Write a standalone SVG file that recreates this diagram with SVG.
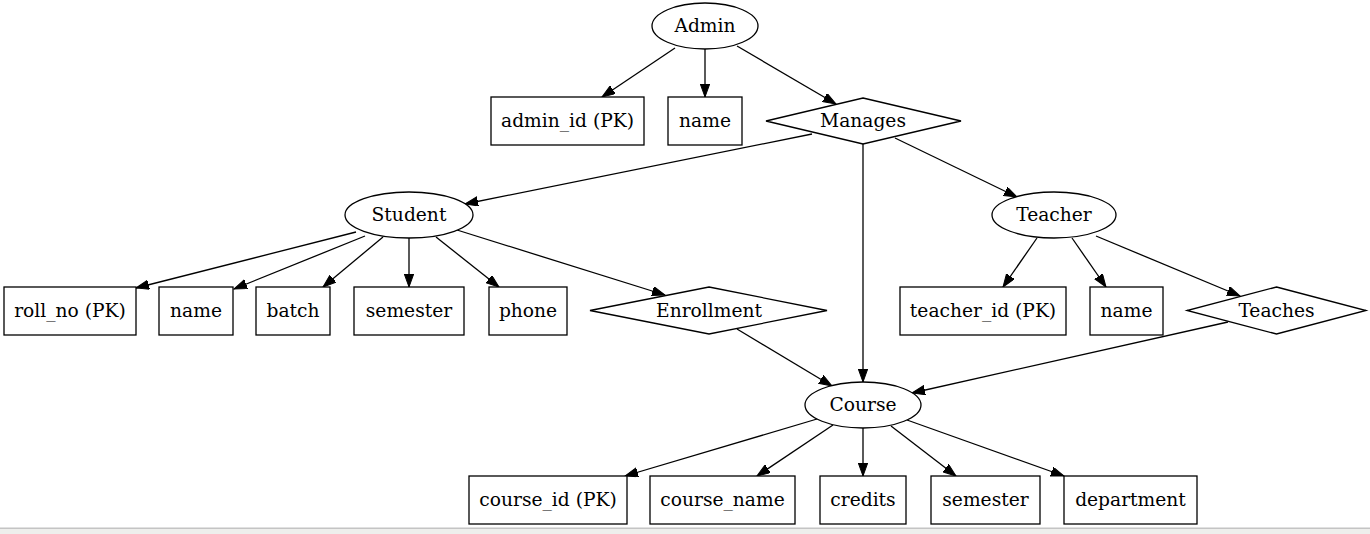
<svg xmlns="http://www.w3.org/2000/svg" width="1370" height="534" viewBox="0 0 1370 534">
<style>
.n{fill:#fff;stroke:#000;stroke-width:1.3}
.t{font-family:"DejaVu Serif","Liberation Serif",serif;font-size:18.67px;text-anchor:middle;fill:#000}
.e{fill:none;stroke:#000;stroke-width:1.3;marker-end:url(#ah)}
</style>
<defs>
<marker id="ah" markerUnits="userSpaceOnUse" markerWidth="14" markerHeight="10" refX="13" refY="4.7" orient="auto">
<path d="M0,0 L13,4.7 L0,9.4 z" fill="#000" stroke="#000" stroke-width="1"/>
</marker>
</defs>
<rect x="0" y="0" width="1370" height="534" fill="#fff"/>
<g id="connectors">
<line class="e" x1="675" y1="48" x2="602" y2="97"/>
<line class="e" x1="705" y1="49" x2="705" y2="97"/>
<line class="e" x1="737" y1="46" x2="836" y2="104"/>
<line class="e" x1="812" y1="134" x2="465" y2="204"/>
<line class="e" x1="863" y1="144" x2="863" y2="382"/>
<line class="e" x1="895" y1="138" x2="1017" y2="197"/>
<line class="e" x1="356" y1="232" x2="136" y2="288"/>
<line class="e" x1="365" y1="236" x2="234" y2="289"/>
<line class="e" x1="383" y1="237" x2="323" y2="287"/>
<line class="e" x1="409" y1="238" x2="409" y2="287"/>
<line class="e" x1="436" y1="237" x2="499" y2="287"/>
<line class="e" x1="457" y1="230" x2="665" y2="295"/>
<line class="e" x1="1037" y1="238" x2="1003" y2="287"/>
<line class="e" x1="1072" y1="238" x2="1106" y2="287"/>
<line class="e" x1="1096" y1="236" x2="1240" y2="296"/>
<line class="e" x1="737" y1="329" x2="832" y2="386"/>
<line class="e" x1="1228" y1="322" x2="912" y2="393"/>
<line class="e" x1="817" y1="419" x2="625" y2="476"/>
<line class="e" x1="833" y1="425" x2="757" y2="476"/>
<line class="e" x1="863" y1="428" x2="863" y2="476"/>
<line class="e" x1="891" y1="426" x2="956" y2="476"/>
<line class="e" x1="907" y1="420" x2="1064" y2="476"/>
</g>
<g id="admin"><ellipse class="n" cx="705" cy="26" rx="53" ry="23"/><text class="t" x="705" y="32">Admin</text></g>
<g id="admin_id"><rect class="n" x="491" y="97" width="153" height="48"/><text class="t" x="567.5" y="127">admin_id (PK)</text></g>
<g id="admin_name"><rect class="n" x="668" y="97" width="74" height="48"/><text class="t" x="705" y="127">name</text></g>
<g id="manages"><polygon class="n" points="863,98 961,121 863,144 766,121"/><text class="t" x="863" y="127">Manages</text></g>
<g id="student"><ellipse class="n" cx="409" cy="215" rx="64" ry="23"/><text class="t" x="409" y="221">Student</text></g>
<g id="roll_no"><rect class="n" x="4" y="287" width="132" height="48"/><text class="t" x="70" y="317">roll_no (PK)</text></g>
<g id="student_name"><rect class="n" x="159" y="287" width="74" height="48"/><text class="t" x="196" y="317">name</text></g>
<g id="batch"><rect class="n" x="256" y="287" width="74" height="48"/><text class="t" x="293" y="317">batch</text></g>
<g id="student_semester"><rect class="n" x="354" y="287" width="110" height="48"/><text class="t" x="409" y="317">semester</text></g>
<g id="phone"><rect class="n" x="489" y="287" width="78" height="48"/><text class="t" x="528" y="317">phone</text></g>
<g id="enrollment"><polygon class="n" points="709,287 827,310.5 709,334 590,310.5"/><text class="t" x="709" y="317">Enrollment</text></g>
<g id="teacher"><ellipse class="n" cx="1054" cy="215" rx="62" ry="23"/><text class="t" x="1054" y="221">Teacher</text></g>
<g id="teacher_id"><rect class="n" x="900" y="287" width="166" height="48"/><text class="t" x="983" y="317">teacher_id (PK)</text></g>
<g id="teacher_name"><rect class="n" x="1090" y="287" width="73" height="48"/><text class="t" x="1126.5" y="317">name</text></g>
<g id="teaches"><polygon class="n" points="1276.5,287 1366,310.5 1276.5,334 1187,310.5"/><text class="t" x="1276.5" y="317">Teaches</text></g>
<g id="course"><ellipse class="n" cx="863" cy="405" rx="58" ry="23"/><text class="t" x="863" y="411">Course</text></g>
<g id="course_id"><rect class="n" x="469" y="476" width="158" height="48"/><text class="t" x="548" y="506">course_id (PK)</text></g>
<g id="course_name"><rect class="n" x="650" y="476" width="145" height="48"/><text class="t" x="722.5" y="506">course_name</text></g>
<g id="credits"><rect class="n" x="820" y="476" width="86" height="48"/><text class="t" x="863" y="506">credits</text></g>
<g id="course_semester"><rect class="n" x="931" y="476" width="109" height="48"/><text class="t" x="985.5" y="506">semester</text></g>
<g id="department"><rect class="n" x="1064" y="476" width="133" height="48"/><text class="t" x="1130.5" y="506">department</text></g>
<rect x="0" y="527.5" width="1370" height="1.5" fill="#c4c4c4"/>
<rect x="0" y="529" width="1370" height="5" fill="#eeeeec"/>
</svg>
